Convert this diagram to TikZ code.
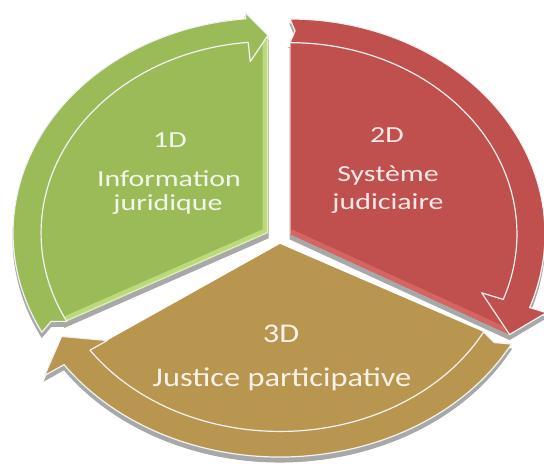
\documentclass[tikz,border=0pt]{standalone}
\usepackage{fontspec}
\setmainfont{Carlito}
\definecolor{gfill}{HTML}{9BBB59}
\definecolor{glight}{HTML}{BCD97C}
\definecolor{rfill}{HTML}{C0504D}
\definecolor{rlight}{HTML}{D46562}
\definecolor{tfill}{HTML}{B9964F}
\definecolor{rimcol}{HTML}{F2F2F2}
\definecolor{shadowcol}{HTML}{A8A8A8}
\tikzset{
  band/.style={fill=#1, draw=rimcol, line width=1.2pt, line join=round},
  body/.style={fill=#1},
  shadowpiece/.style={fill=shadowcol, draw=shadowcol, line width=1pt},
  lbl/.style={text=white, text opacity=0.88, anchor=base, inner sep=0pt,
              font=\fontsize{23}{26}\selectfont},
  lblbig/.style={text=white, text opacity=0.88, anchor=base, inner sep=0pt,
              font=\fontsize{27}{30}\selectfont}
}
% green piece
\newcommand\GreenBody{(0,0) -- (207.5:0.90) arc[start angle=207.5, end angle=90, radius=0.90] -- (90:0.92) -- cycle}
\newcommand\GreenBand{(207.5:0.89) -- (205.8:0.945) -- (207.5:1.0) arc[start angle=207.5, end angle=95, radius=1.0] -- (95:1.03) -- (90:0.92) -- (95:0.80) -- (95:0.89) arc[start angle=95, end angle=207.5, radius=0.89] -- cycle}
% red piece
\newcommand\RedBody{(0,0) -- (90:0.89) arc[start angle=90, end angle=-20, radius=0.89] -- (-28.5:0.98) -- cycle}
\newcommand\RedBand{(90:0.89) -- (88.8:0.945) -- (90:1.0) arc[start angle=90, end angle=-20, radius=1.0] -- (-20:1.07) -- (-28.5:0.98) -- (-20:0.80) -- (-20:0.89) arc[start angle=-20, end angle=90, radius=0.89] -- cycle}
% tan piece
\newcommand\TanBody{(0,0) -- (332:0.88) arc[start angle=332, end angle=214.5, radius=0.88] -- (214.5:0.80) -- cycle}
\newcommand\TanBand{(332:0.88) -- (330.5:0.94) -- (332:1.0) arc[start angle=332, end angle=214.5, radius=1.0] -- (214.5:1.09) -- (207.5:0.94) -- (214.5:0.80) -- (214.5:0.88) arc[start angle=214.5, end angle=332, radius=0.88] -- cycle}
\begin{document}
\begin{tikzpicture}[x=1pt, y=1pt]
\fill[white] (0,0) rectangle (544,466);
\useasboundingbox (0,0) rectangle (544,466);
% ---- shadows (depth) ----
\begin{scope}[yshift=-5pt]
  \begin{scope}[shift={(268pt,233pt)}, x=255pt, y=215pt]
    \path[shadowpiece] \GreenBody; \path[shadowpiece] \GreenBand;
  \end{scope}
  \begin{scope}[shift={(290pt,232pt)}, x=255pt, y=215pt]
    \path[shadowpiece] \RedBody; \path[shadowpiece] \RedBand;
  \end{scope}
  \begin{scope}[shift={(280pt,222pt)}, x=262pt, y=213pt]
    \path[shadowpiece] \TanBody; \path[shadowpiece] \TanBand;
  \end{scope}
\end{scope}
% ---- tan piece ----
\begin{scope}[shift={(280pt,222pt)}, x=262pt, y=213pt]
  \path[body=tfill] \TanBody;
  \path[band=tfill] \TanBand;
\end{scope}
% ---- green piece ----
\begin{scope}[shift={(268pt,233pt)}, x=255pt, y=215pt]
  \path[body=gfill] \GreenBody;
  \begin{scope}
    \clip \GreenBody;
    \draw[glight, line width=11pt, line join=miter] (90:0.95) -- (0,0) -- (207.5:0.95);
    \draw[glight!50!white, line width=2.5pt, line join=miter] (90:0.95) -- (0,0) -- (207.5:0.95);
  \end{scope}
  \path[band=gfill] \GreenBand;
\end{scope}
% ---- red piece ----
\begin{scope}[shift={(290pt,232pt)}, x=255pt, y=215pt]
  \path[body=rfill] \RedBody;
  \begin{scope}
    \clip \RedBody;
    \draw[rlight, line width=10pt, line join=miter] (0,0) -- (-28.5:0.98);
    \draw[rlight!60!white, line width=2.5pt] (90:0.95) -- (0,0);
  \end{scope}
  \path[band=rfill] \RedBand;
\end{scope}
% ---- labels ----
\node[lbl] (g1) at (170,318) {\scalebox{1.3}[1]{1D}};
\node[lbl] (g2) at (169,279) {\scalebox{1.3}[1]{Information}};
\node[lbl] (g3) at (168,255) {\scalebox{1.3}[1]{juridique}};
\node[lbl] (r1) at (387,323) {\scalebox{1.3}[1]{2D}};
\node[lbl] (r2) at (388,284) {\scalebox{1.3}[1]{Système}};
\node[lbl] (r3) at (388,256) {\scalebox{1.3}[1]{judiciaire}};
\node[lblbig] (t1) at (281,123) {\scalebox{1.2}[1]{3D}};
\node[lblbig] (t2) at (282,79) {\scalebox{1.2}[1]{Justice participative}};
\end{tikzpicture}
\end{document}
